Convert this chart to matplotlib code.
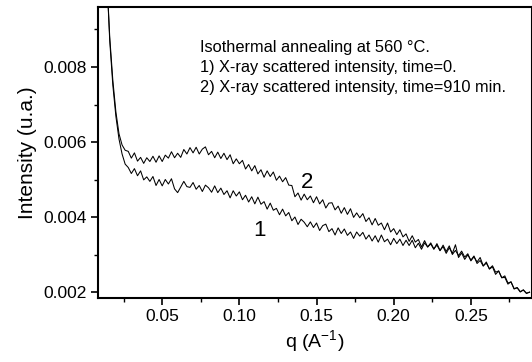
import numpy as np
import matplotlib
matplotlib.use("Agg")
import matplotlib.pyplot as plt
from matplotlib.ticker import MultipleLocator

plt.rcParams['font.family'] = ['Liberation Sans', 'DejaVu Sans']
plt.rcParams['mathtext.fontset'] = 'custom'
plt.rcParams['mathtext.rm'] = 'Liberation Sans'
plt.rcParams['mathtext.it'] = 'Liberation Sans:italic'

# scattering vector q (1/A)
q = [0.014, 0.016, 0.018, 0.020, 0.022, 0.024, 0.026,
     0.028, 0.030, 0.032, 0.034, 0.036, 0.038, 0.040, 0.042, 0.044, 0.046,
     0.048, 0.050, 0.052, 0.054, 0.056, 0.058, 0.060, 0.062, 0.064, 0.066,
     0.068, 0.070, 0.072, 0.074, 0.076, 0.078, 0.080, 0.082, 0.084, 0.086,
     0.088, 0.090, 0.092, 0.094, 0.096, 0.098, 0.100, 0.102, 0.104, 0.106,
     0.108, 0.110, 0.112, 0.114, 0.116, 0.118, 0.120, 0.122, 0.124, 0.126,
     0.128, 0.130, 0.132, 0.134, 0.136, 0.138, 0.140, 0.142, 0.144, 0.146,
     0.148, 0.150, 0.152, 0.154, 0.156, 0.158, 0.160, 0.162, 0.164, 0.166,
     0.168, 0.170, 0.172, 0.174, 0.176, 0.178, 0.180, 0.182, 0.184, 0.186,
     0.188, 0.190, 0.192, 0.194, 0.196, 0.198, 0.200, 0.202, 0.204, 0.206,
     0.208, 0.210, 0.212, 0.214, 0.216, 0.218, 0.220, 0.222, 0.224, 0.226,
     0.228, 0.230, 0.232, 0.234, 0.236, 0.238, 0.240, 0.242, 0.244, 0.246,
     0.248, 0.250, 0.252, 0.254, 0.256, 0.258, 0.260, 0.262, 0.264, 0.266,
     0.268, 0.270, 0.272, 0.274, 0.276, 0.278, 0.280, 0.282, 0.284, 0.286,
     0.288]

# intensity, time = 0 (curve 1), in units of 1e-5 u.a.
intensity_t0 = [1050, 870, 752, 668, 608, 568, 541,
                532, 516, 529, 510, 523, 499, 507, 495, 508, 484,
                500, 483, 500, 488, 502, 475, 465, 480, 495, 481,
                479, 492, 474, 484, 468, 485, 478, 466, 483, 465,
                477, 460, 470, 451, 470, 456, 467, 446, 458, 440,
                454, 435, 453, 434, 441, 421, 437, 418, 423, 406,
                421, 403, 412, 390, 400, 380, 394, 386, 374, 387,
                372, 384, 364, 377, 381, 361, 369, 352, 371, 356,
                368, 351, 360, 343, 360, 349, 359, 341, 352, 336,
                350, 333, 352, 334, 341, 326, 343, 329, 341, 324,
                338, 324, 338, 318, 330, 314, 331, 320, 331, 315,
                325, 310, 325, 308, 323, 300, 311, 297, 309, 293,
                302, 283, 294, 280, 292, 270, 277, 262, 270, 253,
                256, 238, 243, 224, 227, 209, 212, 201, 205, 197,
                199]

# intensity, time = 910 min (curve 2), in units of 1e-5 u.a.
intensity_t910 = [1050, 880, 765, 680, 622, 592, 578,
                  575, 557, 571, 549, 559, 543, 558, 548, 562, 546,
                  563, 548, 565, 557, 574, 558, 570, 559, 580, 568,
                  585, 571, 586, 568, 581, 587, 566, 575, 558, 573,
                  556, 570, 553, 566, 542, 555, 542, 551, 528, 540,
                  523, 537, 515, 526, 506, 523, 508, 520, 498, 509,
                  494, 505, 485, 484, 454, 464, 445, 461, 446, 456,
                  438, 454, 435, 446, 424, 437, 438, 419, 429, 410,
                  425, 407, 422, 399, 411, 398, 409, 388, 398, 379,
                  396, 378, 384, 366, 384, 360, 369, 353, 366, 347,
                  355, 335, 350, 333, 340, 320, 337, 320, 328, 314,
                  329, 311, 321, 303, 318, 303, 326, 292, 304, 287,
                  299, 285, 296, 276, 284, 269, 280, 261, 267, 247,
                  256, 238, 239, 221, 227, 208, 211, 200, 206, 196,
                  200]

xticks = [0.05, 0.10, 0.15, 0.20, 0.25]
yticks = [0.002, 0.004, 0.006, 0.008]

W, H = 532, 362
fig = plt.figure(figsize=(W / 100, H / 100), dpi=100)
ax = fig.add_axes([98 / W, 1 - 298 / H, 1 - 98 / W, (298 - 7) / H])

qa = np.array(q)
ax.plot(qa, np.array(intensity_t0) * 1e-5, color='black', lw=0.75)
ax.plot(qa, np.array(intensity_t910) * 1e-5, color='black', lw=0.75)

ax.set_xlim(0.0084, 0.2896)
ax.set_ylim(0.00184, 0.0096)
ax.set_xticks(xticks)
ax.set_xticklabels([f"{v:.2f}" for v in xticks])
ax.set_yticks(yticks)
ax.set_yticklabels([f"{v:.3f}" for v in yticks])
ax.xaxis.set_minor_locator(MultipleLocator(0.025))
ax.yaxis.set_minor_locator(MultipleLocator(0.001))
ax.tick_params(which='major', direction='out', length=5, width=1.2, labelsize=12.5, pad=3)
ax.tick_params(which='minor', direction='out', length=3, width=1.0)
for s in ax.spines.values():
    s.set_linewidth(1.5)

ax.set_xlabel("q (A$^{\\mathrm{-1}}$)", fontsize=14, labelpad=3)
ax.set_ylabel("Intensity (u.a.)", fontsize=15, labelpad=5)

fig.text(200 / W, 1 - 52 / H, "Isothermal annealing at 560 °C.", fontsize=11.8, va='baseline')
fig.text(200 / W, 1 - 72 / H, "1) X-ray scattered intensity, time=0.", fontsize=11.8, va='baseline')
fig.text(200 / W, 1 - 92 / H, "2) X-ray scattered intensity, time=910 min.", fontsize=11.8, va='baseline')

ax.annotate("1", xy=(0.1129, 0.00365), fontsize=16, ha='center', va='center')
ax.annotate("2", xy=(0.1441, 0.00493), fontsize=16, ha='center', va='center')

fig.savefig("out.png", dpi=100)
